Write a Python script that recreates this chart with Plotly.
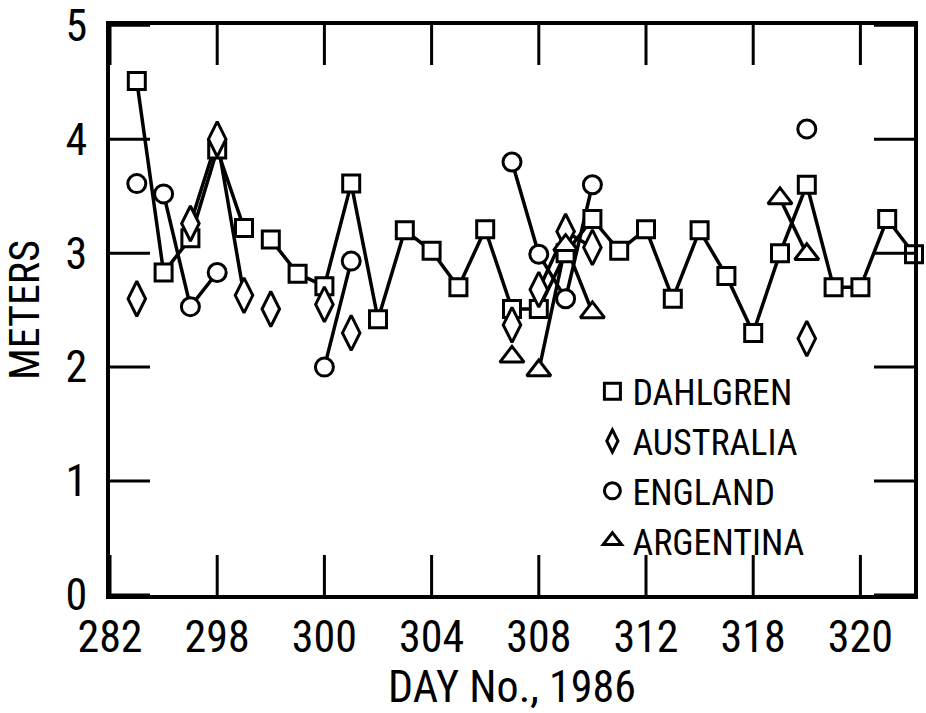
import plotly.graph_objects as go

# x positions are sequential observation slots; tick labels as printed on the chart
TICK_POS = [0, 4, 8, 12, 16, 20, 24, 28]
TICK_LABELS = ["282", "298", "300", "304", "308", "312", "318", "320"]
Y_TICKS = [0, 1, 2, 3, 4, 5]
X_RANGE = [0, 30]
Y_RANGE = [0, 5.002]

# each series: list of connected segments (slot list, value list)
DAHLGREN_SEGS = [
    ([1, 2, 3, 4, 5], [4.51, 2.83, 3.13, 3.91, 3.22]),
    (list(range(6, 31)),
     [3.12, 2.82, 2.71, 3.61, 2.42, 3.20, 3.02, 2.70, 3.21, 2.51,
      2.51, 3.00, 3.30, 3.02, 3.21, 2.60, 3.20, 2.80, 2.30, 3.00,
      3.60, 2.70, 2.70, 3.30, 2.99]),
]
AUSTRALIA_SEGS = [
    ([1], [2.60]),
    ([3, 4, 5], [3.26, 4.00, 2.63]),
    ([6], [2.51]),
    ([8], [2.55]),
    ([9], [2.30]),
    ([15], [2.37]),
    ([16, 17, 18], [2.68, 3.19, 3.05]),
    ([26], [2.25]),
]
ENGLAND_SEGS = [
    ([1], [3.61]),
    ([2, 3, 4], [3.52, 2.53, 2.83]),
    ([8, 9], [2.00, 2.93]),
    ([15, 16, 17, 18], [3.80, 2.99, 2.60, 3.60]),
    ([26], [4.09]),
]
ARGENTINA_SEGS = [
    ([15], [2.09]),
    ([16, 17, 18], [1.97, 3.07, 2.48]),
    ([25, 26], [3.48, 2.99]),
]

FONT = "Liberation Sans Narrow, Arial Narrow, Roboto Condensed, Liberation Sans, sans-serif"

WIDTH, HEIGHT = 926, 713
MARGIN = dict(l=110, r=12, t=25, b=118)
PLOT_W = WIDTH - MARGIN["l"] - MARGIN["r"]
PLOT_H = HEIGHT - MARGIN["t"] - MARGIN["b"]
TICK_LEN = 40  # inward tick length in pixels


def flatten(segs):
    xs, ys = [], []
    for sx, sy in segs:
        xs += list(sx) + [None]
        ys += list(sy) + [None]
    return xs, ys


series = [
    ("DAHLGREN", DAHLGREN_SEGS, "square", 17),
    ("AUSTRALIA", AUSTRALIA_SEGS, "diamond-tall", 25),
    ("ENGLAND", ENGLAND_SEGS, "circle", 18),
    ("ARGENTINA", ARGENTINA_SEGS, "triangle-up", 21),
]

fig = go.Figure()
for name, segs, sym, size in series:
    xs, ys = flatten(segs)
    fig.add_trace(go.Scatter(
        x=xs, y=ys, name=name, mode="lines", showlegend=False,
        connectgaps=False, cliponaxis=False, hoverinfo="skip",
        line=dict(color="black", width=3.5),
    ))
for name, segs, sym, size in series:
    xs, ys = flatten(segs)
    fig.add_trace(go.Scatter(
        x=xs, y=ys, name=name, mode="markers", cliponaxis=False,
        marker=dict(symbol=sym, size=size, color="white",
                    line=dict(color="black", width=3)),
    ))

fig.update_layout(template="none")

main_axis = dict(
    showline=True, linecolor="black", linewidth=4, mirror=True,
    ticks="", showgrid=False, zeroline=False,
    tickfont=dict(family=FONT, size=44, color="black"),
)

fig.update_layout(
    xaxis=dict(
        range=X_RANGE, tickmode="array", tickvals=TICK_POS, ticktext=TICK_LABELS,
        title=dict(text="DAY No., 1986", font=dict(family=FONT, size=44, color="black"),
                   standoff=6),
        **main_axis,
    ),
    yaxis=dict(
        range=Y_RANGE, tickmode="array", tickvals=Y_TICKS,
        ticklabelstandoff=10, ticklabeloverflow="allow",
        title=dict(text="METERS", font=dict(family=FONT, size=42, color="black"),
                   standoff=18),
        **main_axis,
    ),
)

# inward tick marks on all four sides, placed at the axis tick values
tick_line = dict(color="black", width=3)
fx = TICK_LEN / PLOT_W
fy = TICK_LEN / PLOT_H
for t in TICK_POS:
    fig.add_shape(type="line", xref="x", yref="paper", x0=t, x1=t, y0=0, y1=fy,
                  line=tick_line, layer="above")
    fig.add_shape(type="line", xref="x", yref="paper", x0=t, x1=t, y0=1, y1=1 - fy,
                  line=tick_line, layer="above")
for v in Y_TICKS:
    fig.add_shape(type="line", xref="paper", yref="y", x0=0, x1=fx, y0=v, y1=v,
                  line=tick_line, layer="above")
    fig.add_shape(type="line", xref="paper", yref="y", x0=1, x1=1 - fx, y0=v, y1=v,
                  line=tick_line, layer="above")

fig.update_layout(
    width=WIDTH, height=HEIGHT,
    margin=dict(**MARGIN, autoexpand=False),
    paper_bgcolor="white", plot_bgcolor="white",
    font=dict(family=FONT, color="black"),
    showlegend=True,
    legend=dict(
        x=0.60, y=0.41, xanchor="left", yanchor="top",
        bgcolor="rgba(0,0,0,0)", borderwidth=0,
        font=dict(family=FONT, size=36, color="black"),
        itemwidth=30, tracegroupgap=0,
    ),
)

fig.write_html("out.html")
